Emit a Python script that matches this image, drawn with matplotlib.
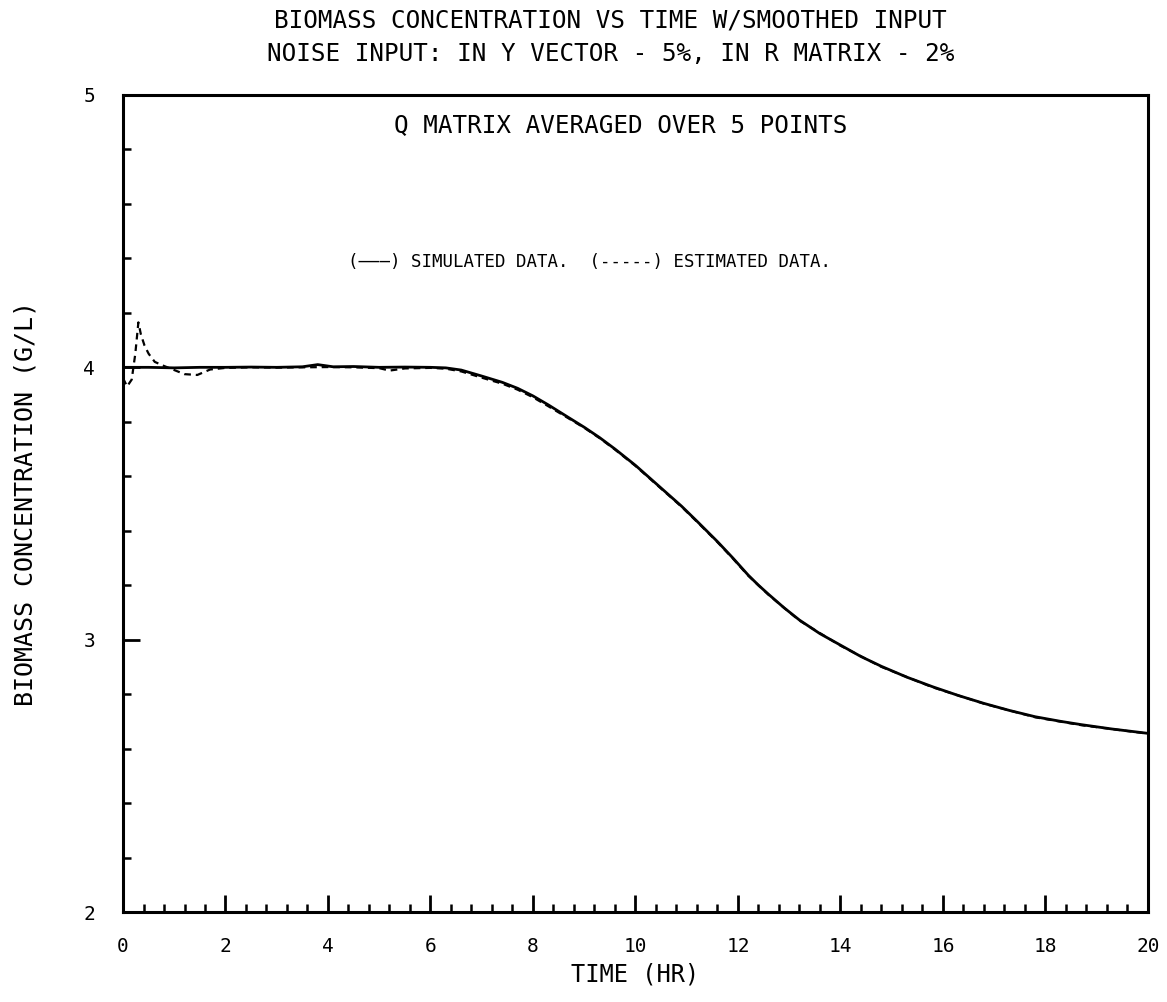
#!/usr/bin/env python3
import matplotlib
matplotlib.use("Agg")
import matplotlib.pyplot as plt
from matplotlib.ticker import MultipleLocator

# simulated biomass (solid)
sim_t = [0.0, 0.5, 1.0, 1.5, 2.0, 2.5, 3.0, 3.5, 3.8, 4.1, 4.5, 5.0, 5.5, 6.0, 6.3,
         6.6, 7.0, 7.4, 7.7, 8.0, 8.3, 8.7, 9.0, 9.3, 9.6, 10.0, 10.3, 10.6, 10.9,
         11.2, 11.6, 11.9, 12.2, 12.4, 12.6, 12.9, 13.2, 13.6, 14.0, 14.4, 14.8, 15.3,
         15.8, 16.3, 16.8, 17.3, 17.8, 18.3, 18.7, 19.3, 20.0]
sim_v = [4.0, 4.0, 3.998, 4.0, 4.0, 4.001, 4.0, 4.002, 4.01, 4.002, 4.003, 4.0, 4.001, 4.0, 3.998,
         3.99, 3.968, 3.945, 3.923, 3.895, 3.862, 3.815, 3.78, 3.742, 3.70, 3.64, 3.59, 3.54, 3.49,
         3.435, 3.36, 3.30, 3.237, 3.200, 3.166, 3.117, 3.072, 3.022, 2.980, 2.938, 2.902, 2.862,
         2.827, 2.795, 2.766, 2.740, 2.717, 2.700, 2.688, 2.672, 2.656]

# estimated biomass (dashed)
est_t = [0.0, 0.08, 0.17, 0.24, 0.30, 0.35, 0.42, 0.5, 0.62, 0.8, 1.0, 1.2, 1.45, 1.7, 2.0,
         2.5, 3.0, 3.5, 4.0, 4.5, 5.0, 5.2, 5.5, 6.0, 6.3, 6.6, 7.0, 7.4, 7.7, 8.0, 8.3,
         8.7, 9.0, 9.3, 9.6, 10.0, 10.3, 10.6, 10.9, 11.2, 11.6, 11.9, 12.2, 12.6, 13.2,
         14.0, 14.8, 15.8, 16.8, 17.8, 18.7, 20.0]
est_v = [3.96, 3.93, 3.955, 4.05, 4.165, 4.12, 4.08, 4.05, 4.02, 4.005, 3.99, 3.975, 3.972, 3.992, 3.998,
         4.0, 3.999, 4.0, 4.001, 4.0, 3.997, 3.988, 3.996, 3.998, 3.995, 3.985, 3.962, 3.94, 3.918, 3.89, 3.857,
         3.812, 3.778, 3.74, 3.698, 3.638, 3.588, 3.538, 3.488, 3.433, 3.358, 3.298, 3.235, 3.164, 3.070,
         2.978, 2.900, 2.825, 2.765, 2.715, 2.686, 2.655]

x_ticks = [0, 2, 4, 6, 8, 10, 12, 14, 16, 18, 20]
y_ticks = [2, 3, 4, 5]

title_lines = ["BIOMASS CONCENTRATION VS TIME W/SMOOTHED INPUT",
               "NOISE INPUT: IN Y VECTOR - 5%, IN R MATRIX - 2%"]
note = "Q MATRIX AVERAGED OVER 5 POINTS"

FONT = "DejaVu Sans Mono"
plt.rcParams.update({"font.family": FONT})

fig = plt.figure(figsize=(11.67, 10.02), dpi=100)
ax = fig.add_axes([0.1054, 0.0898, 0.8783, 0.8154])

ax.plot(est_t, est_v, color="black", lw=1.6, ls=(0, (3, 2.2)))
ax.plot(sim_t, sim_v, color="black", lw=2.0)

ax.set_xlim(0, 20)
ax.set_ylim(2, 5)
ax.set_xticks(x_ticks)
ax.set_yticks(y_ticks)
ax.xaxis.set_minor_locator(MultipleLocator(0.4))
ax.yaxis.set_minor_locator(MultipleLocator(0.2))
ax.tick_params(which="major", direction="in", length=12, width=2.0, labelsize=14)
ax.tick_params(which="minor", direction="in", length=6, width=1.8)
ax.tick_params(axis="x", pad=18)
ax.tick_params(axis="y", pad=20)
for spine in ax.spines.values():
    spine.set_linewidth(2.2)

ax.set_xlabel("TIME (HR)", fontsize=17, labelpad=5)
ax.set_ylabel("BIOMASS CONCENTRATION (G/L)", fontsize=18, labelpad=33)

fig.text(0.523, 0.980, title_lines[0], ha="center", va="center", fontsize=17.5)
fig.text(0.523, 0.946, title_lines[1], ha="center", va="center", fontsize=17.5)
fig.text(0.532, 0.875, note, ha="center", va="center", fontsize=17.5)
ax.text(0.455, 0.795, "(\u2014\u2014\u2014) SIMULATED DATA.  (-----) ESTIMATED DATA.",
        transform=ax.transAxes, ha="center", va="center", fontsize=12.5)

fig.savefig("out.png", dpi=100)
